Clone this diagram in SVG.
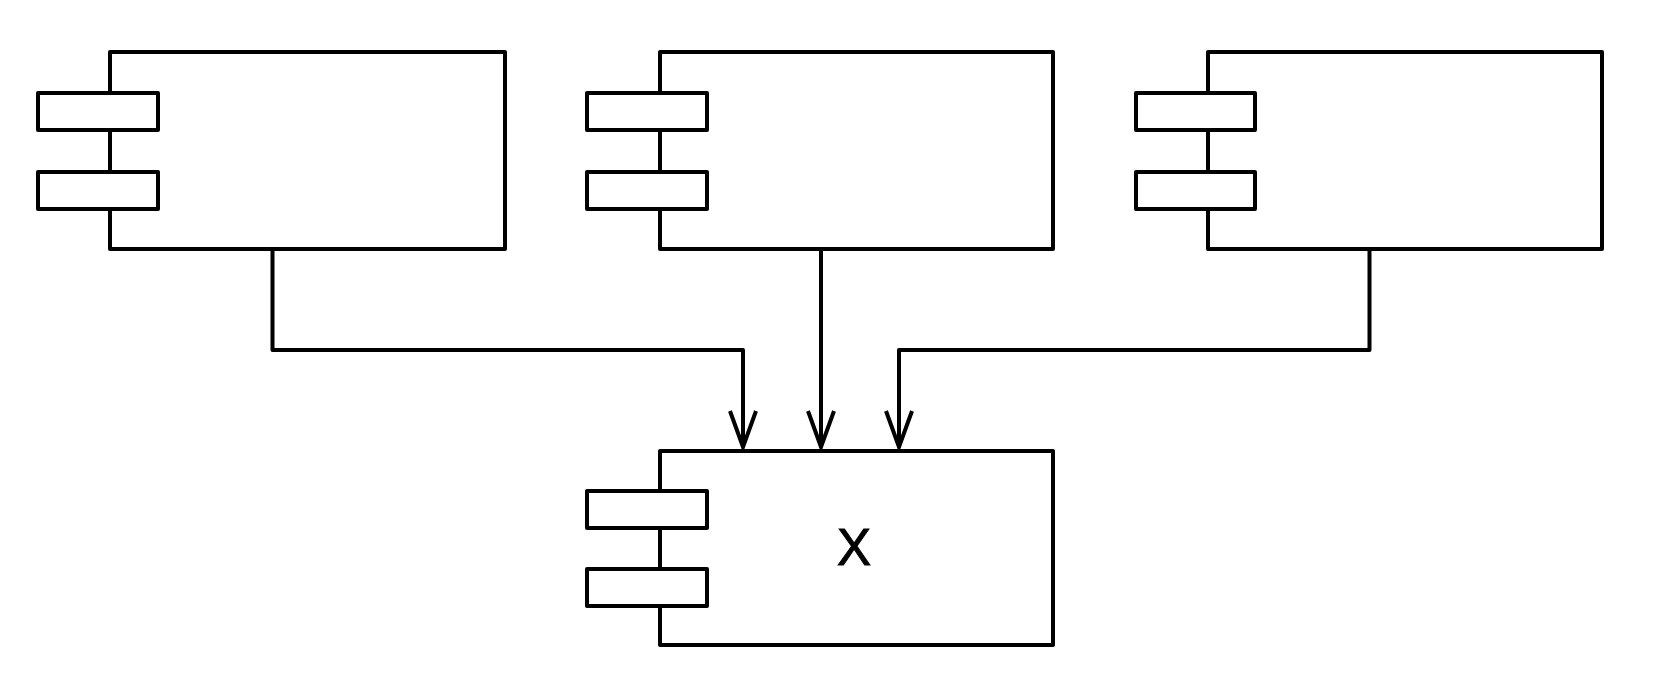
<svg xmlns="http://www.w3.org/2000/svg" width="1656" height="676" viewBox="0 0 1656 676">
<style>
.box{fill:#fff;stroke:#000;stroke-width:4;stroke-linejoin:round}
.port{fill:#fff;stroke:#000;stroke-width:4;stroke-linejoin:round}
.conn{fill:none;stroke:#000;stroke-width:4;stroke-linejoin:round}
.lbl{font-family:"Liberation Sans",Arial,sans-serif;font-size:51px;fill:#000;stroke:#000;stroke-width:1;text-anchor:middle}
</style>
<defs>
<marker id="arr" markerUnits="userSpaceOnUse" markerWidth="44" markerHeight="34" viewBox="-40 -17 44 34" refX="0" refY="0" orient="auto">
<path d="M-36,-13 L0,0 L-36,13" fill="none" stroke="#000" stroke-width="4" stroke-linejoin="miter"/>
</marker>
</defs>
<rect width="1656" height="676" fill="#fff"/>
<g id="comp1">
<rect class="box" x="110" y="52" width="395" height="197"/>
<rect class="port" x="38" y="93" width="120" height="37"/>
<rect class="port" x="38" y="172" width="120" height="37"/>
</g>
<g id="comp2">
<rect class="box" x="660" y="52" width="393" height="197"/>
<rect class="port" x="587" y="93" width="120" height="37"/>
<rect class="port" x="587" y="172" width="120" height="37"/>
</g>
<g id="comp3">
<rect class="box" x="1208" y="52" width="394" height="197"/>
<rect class="port" x="1136" y="93" width="119" height="37"/>
<rect class="port" x="1136" y="172" width="119" height="37"/>
</g>
<g id="compX">
<rect class="box" x="660" y="451" width="393" height="194"/>
<rect class="port" x="587" y="491" width="120" height="37"/>
<rect class="port" x="587" y="569" width="120" height="37"/>
<text class="lbl" x="854" y="565">X</text>
</g>
<g id="connectors">
<path class="conn" d="M272.5,249 V350 H743 V447" marker-end="url(#arr)"/>
<path class="conn" d="M821,249 V447" marker-end="url(#arr)"/>
<path class="conn" d="M1369.5,249 V350 H899 V447" marker-end="url(#arr)"/>
</g>
</svg>
